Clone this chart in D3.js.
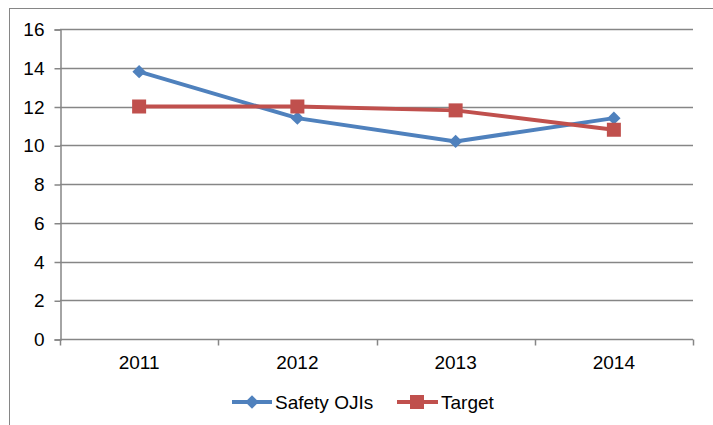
<!DOCTYPE html>
<html>
<head>
<meta charset="utf-8">
<script src="https://cdn.jsdelivr.net/npm/d3@7"></script>
<style>
  body { margin: 0; background: #fff; }
  svg { display: block; font-family: "Liberation Sans", Arial, sans-serif; }
</style>
</head>
<body>
<div id="chart"></div>
<script>
var years = ["2011", "2012", "2013", "2014"]
var safetyOJIs = [13.8, 11.4, 10.2, 11.4]
var target = [12, 12, 11.8, 10.8]
var yTicks = [0, 2, 4, 6, 8, 10, 12, 14, 16]

var width = 713
var height = 425
var margin = { top: 29, right: 20, bottom: 86, left: 60 }
var fontSize = 19

var svg = d3.select("#chart")
    .append("svg")
    .attr("width", width)
    .attr("height", height)

// outer chart border
svg.append("rect")
    .attr("x", 9.5)
    .attr("y", 8.5)
    .attr("width", 720)
    .attr("height", 430)
    .attr("fill", "none")
    .attr("stroke", "#868686")
    .attr("stroke-width", 1)

var x = d3.scaleBand()
    .domain(years)
    .range([margin.left, width - margin.right])

var y = d3.scaleLinear()
    .domain([0, 16])
    .range([height - margin.bottom, margin.top])

// gridlines
svg.append("g")
    .selectAll("line")
    .data(yTicks.filter(d => d > 0))
    .join("line")
    .attr("x1", margin.left)
    .attr("x2", width - margin.right)
    .attr("y1", d => Math.round(y(d)) + 0.5)
    .attr("y2", d => Math.round(y(d)) + 0.5)
    .attr("stroke", "#868686")
    .attr("stroke-width", 1.5)

// y axis
var yAxis = svg.append("g")
    .attr("transform", "translate(" + (margin.left + 0.5) + ",0.5)")
    .call(d3.axisLeft(y).tickValues(yTicks).tickSize(6).tickPadding(10))
yAxis.selectAll("path, line").attr("stroke", "#868686").attr("stroke-width", 1.5)
yAxis.selectAll("text").attr("font-size", fontSize).attr("fill", "#000")
yAxis.attr("font-family", null)

// x axis with ticks at band edges
var xAxisG = svg.append("g")
    .attr("transform", "translate(0," + (Math.round(y(0)) + 0.5) + ")")
xAxisG.append("line")
    .attr("x1", margin.left)
    .attr("x2", width - margin.right)
    .attr("stroke", "#868686")
    .attr("stroke-width", 1.5)
xAxisG.selectAll(".edge")
    .data(years.concat(["end"]))
    .join("line")
    .attr("class", "edge")
    .attr("x1", (d, i) => Math.round(margin.left + i * x.step()) + 0.5)
    .attr("x2", (d, i) => Math.round(margin.left + i * x.step()) + 0.5)
    .attr("y1", 0)
    .attr("y2", 6)
    .attr("stroke", "#868686")
    .attr("stroke-width", 1.5)
xAxisG.selectAll("text")
    .data(years)
    .join("text")
    .attr("x", d => x(d) + x.bandwidth() / 2)
    .attr("y", 29)
    .attr("text-anchor", "middle")
    .attr("font-size", fontSize)
    .text(d => d)

var cx = d => x(d) + x.bandwidth() / 2
var line = d3.line()
    .x((d, i) => cx(years[i]))
    .y(d => y(d))

var blue = "#4F81BD"
var red = "#C0504D"

svg.append("path")
    .datum(safetyOJIs)
    .attr("d", line)
    .attr("fill", "none")
    .attr("stroke", blue)
    .attr("stroke-width", 4)

svg.append("path")
    .datum(target)
    .attr("d", line)
    .attr("fill", "none")
    .attr("stroke", red)
    .attr("stroke-width", 4)

var diamond = d3.symbol().type(d3.symbolDiamond2).size(115)

svg.append("g")
    .selectAll("path")
    .data(safetyOJIs)
    .join("path")
    .attr("d", diamond)
    .attr("transform", (d, i) => "translate(" + cx(years[i]) + "," + y(d) + ")")
    .attr("fill", blue)

svg.append("g")
    .selectAll("rect")
    .data(target)
    .join("rect")
    .attr("x", (d, i) => cx(years[i]) - 7)
    .attr("y", d => y(d) - 7)
    .attr("width", 14)
    .attr("height", 14)
    .attr("fill", red)

// legend
var legend = svg.append("g").attr("transform", "translate(0,402)")

legend.append("line")
    .attr("x1", 232).attr("x2", 272)
    .attr("stroke", blue).attr("stroke-width", 4)
legend.append("path")
    .attr("d", diamond)
    .attr("transform", "translate(252,0)")
    .attr("fill", blue)
legend.append("text")
    .attr("x", 275).attr("y", 7)
    .attr("font-size", fontSize)
    .text("Safety OJIs")

legend.append("line")
    .attr("x1", 397).attr("x2", 438)
    .attr("stroke", red).attr("stroke-width", 4)
legend.append("rect")
    .attr("x", 410).attr("y", -7)
    .attr("width", 14).attr("height", 14)
    .attr("fill", red)
legend.append("text")
    .attr("x", 441).attr("y", 7)
    .attr("font-size", fontSize)
    .text("Target")
</script>
</body>
</html>
